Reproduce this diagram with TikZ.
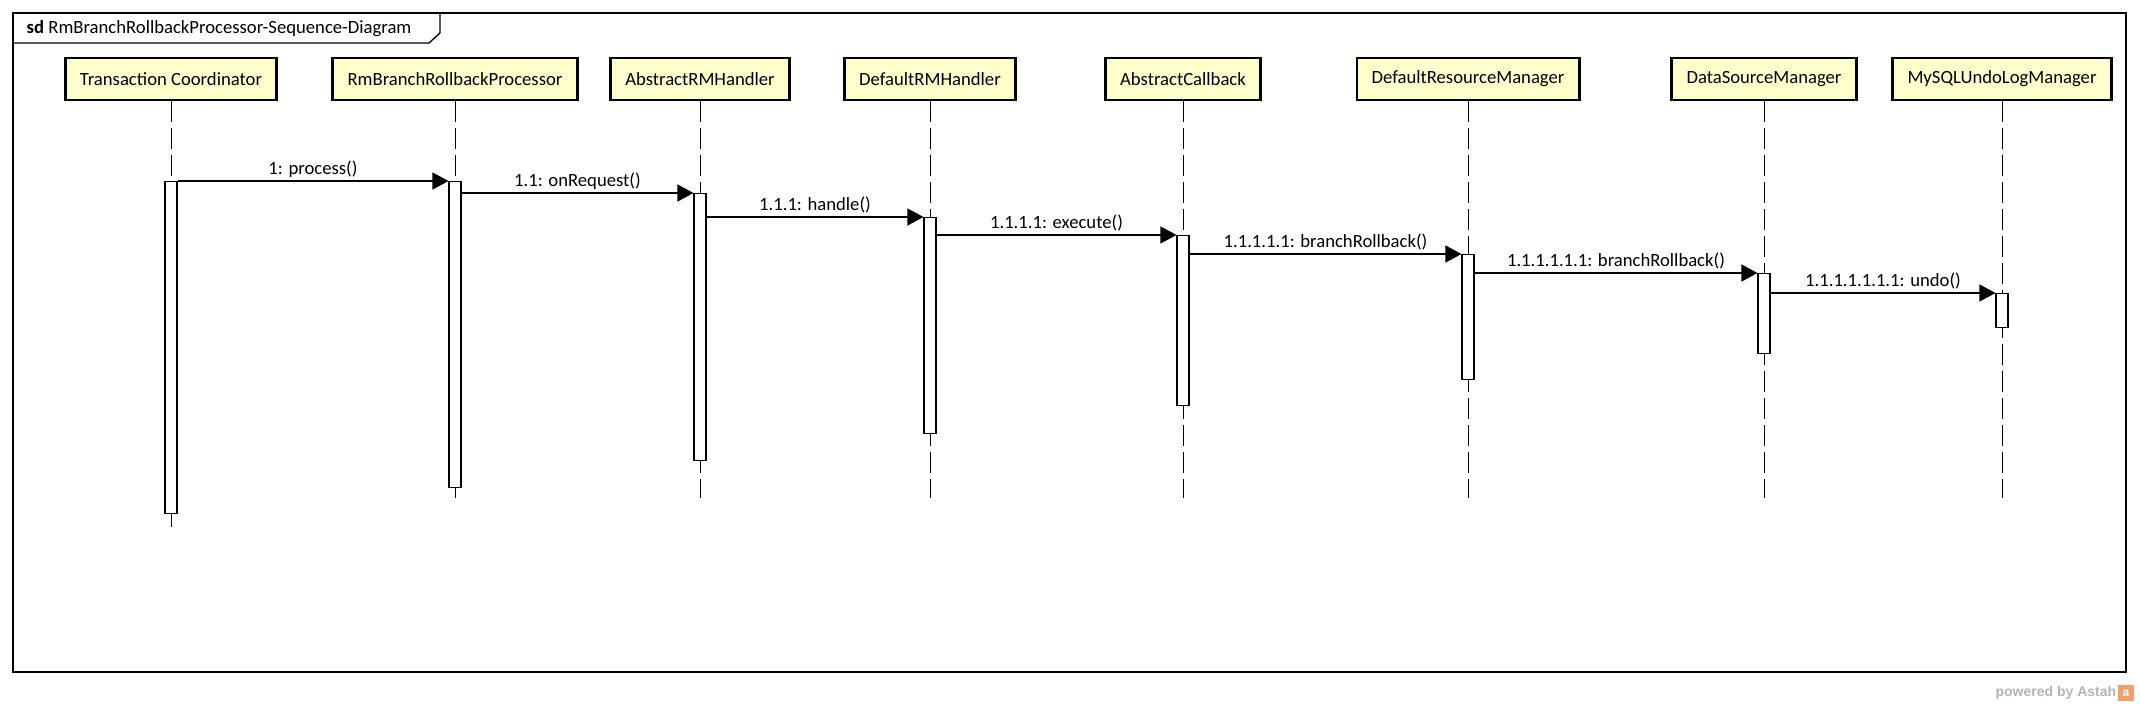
\documentclass[tikz,border=0pt]{standalone}
\usepackage{fontspec}
\setmainfont{Carlito}
\newfontfamily\astahfont{Liberation Sans}
\usepackage{tikz}
\usetikzlibrary{shapes,arrows,arrows.meta}
\usetikzlibrary{positioning}
\definecolor{headfill}{HTML}{FFFFCC}
\definecolor{astahgray}{HTML}{B4B4B4}
\definecolor{astahorange}{HTML}{F0A070}
\tikzstyle{message} = [-{Triangle[length=12pt,width=12.75pt]}, line width=0.9pt]
\tikzstyle{lifeline} = [draw, dash pattern=on 15.75pt off 4.5pt, line width=0.7pt]
\tikzstyle{object} = [rectangle, draw, line width=2.2pt, fill=headfill,
   inner xsep=11pt, minimum height=31.5pt, font=\fontsize{14}{16}\selectfont]
\tikzstyle{activation} = [rectangle, draw, fill=white, line width=0.8pt,
   minimum width=9pt, inner sep=0pt, anchor=north]
\tikzstyle{msglabel} = [font=\fontsize{14}{16}\selectfont, inner sep=2.5pt]

\begin{document}
\begin{tikzpicture}[x=0.75pt, y=-0.75pt]
\useasboundingbox (0,0) rectangle (2140,712);

% frame and title tab
\draw [line width=1pt] (13,13) rectangle (2126,672);
\draw [line width=1pt] (13,43) -- (429,43) -- (440,33) -- (440,13);
\node (title) [anchor=west, font=\fontsize{14}{16}\selectfont] at (22,29)
   {\textbf{sd} RmBranchRollbackProcessor-Sequence-Diagram};

% objects
\node (tc) [object] at (171,79) {Transaction Coordinator};
\node (rbrp) [object] at (455,79) {RmBranchRollbackProcessor};
\node (armh) [object] at (700,79) {AbstractRMHandler};
\node (drmh) [object] at (930,79) {DefaultRMHandler};
\node (acb) [object] at (1183,79) {AbstractCallback};
\node (drm) [object] at (1468,79) {DefaultResourceManager};
\node (dsm) [object] at (1764,79) {DataSourceManager};
\node (undo) [object] at (2002,79) {MySQLUndoLogManager};

% lifelines
\coordinate (tcEnd) at (171,533);
\coordinate (rbrpEnd) at (455,498);
\coordinate (armhEnd) at (700,498);
\coordinate (drmhEnd) at (930,498);
\coordinate (acbEnd) at (1183,498);
\coordinate (drmEnd) at (1468,498);
\coordinate (dsmEnd) at (1764,498);
\coordinate (undoEnd) at (2002,498);
\draw [lifeline] (tc) -- (tcEnd);
\draw [lifeline] (rbrp) -- (rbrpEnd);
\draw [lifeline] (armh) -- (armhEnd);
\draw [lifeline] (drmh) -- (drmhEnd);
\draw [lifeline] (acb) -- (acbEnd);
\draw [lifeline] (drm) -- (drmEnd);
\draw [lifeline] (dsm) -- (dsmEnd);
\draw [lifeline] (undo) -- (undoEnd);

% activations
\node (tcAct) [activation, minimum height=249pt] at (171,181) {};
\node (rbrpAct) [activation, minimum height=229.5pt] at (455,181) {};
\node (armhAct) [activation, minimum height=200.25pt] at (700,193) {};
\node (drmhAct) [activation, minimum height=162pt] at (930,217) {};
\node (acbAct) [activation, minimum height=127.5pt] at (1183,235) {};
\node (drmAct) [activation, minimum height=93.75pt] at (1468,254) {};
\node (dsmAct) [activation, minimum height=60pt] at (1764,273) {};
\node (undoAct) [activation, minimum height=25.5pt] at (2002,293) {};

% messages
\draw [message] (tcAct.east |- rbrpAct.north) -- (rbrpAct.north west)
   node [msglabel, midway, above] {1: process()};
\draw [message] (rbrpAct.east |- armhAct.north) -- (armhAct.north west)
   node [msglabel, midway, above] {1.1: onRequest()};
\draw [message] (armhAct.east |- drmhAct.north) -- (drmhAct.north west)
   node [msglabel, midway, above] {1.1.1: handle()};
\draw [message] (drmhAct.east |- acbAct.north) -- (acbAct.north west)
   node [msglabel, midway, above] {1.1.1.1: execute()};
\draw [message] (acbAct.east |- drmAct.north) -- (drmAct.north west)
   node [msglabel, midway, above] {1.1.1.1.1: branchRollback()};
\draw [message] (drmAct.east |- dsmAct.north) -- (dsmAct.north west)
   node [msglabel, midway, above] {1.1.1.1.1.1: branchRollback()};
\draw [message] (dsmAct.east |- undoAct.north) -- (undoAct.north west)
   node [msglabel, midway, above] {1.1.1.1.1.1.1: undo()};

% watermark
\node (logo) [fill=astahorange, minimum size=12pt, inner sep=0pt, text=white,
   font=\astahfont\bfseries\fontsize{9}{9}\selectfont] at (2126,693) {a};
\node (astah) [left=1pt of logo, inner sep=0pt, text=astahgray,
   font=\astahfont\bfseries\fontsize{10.5}{12}\selectfont] {powered by Astah};

\end{tikzpicture}
\end{document}
